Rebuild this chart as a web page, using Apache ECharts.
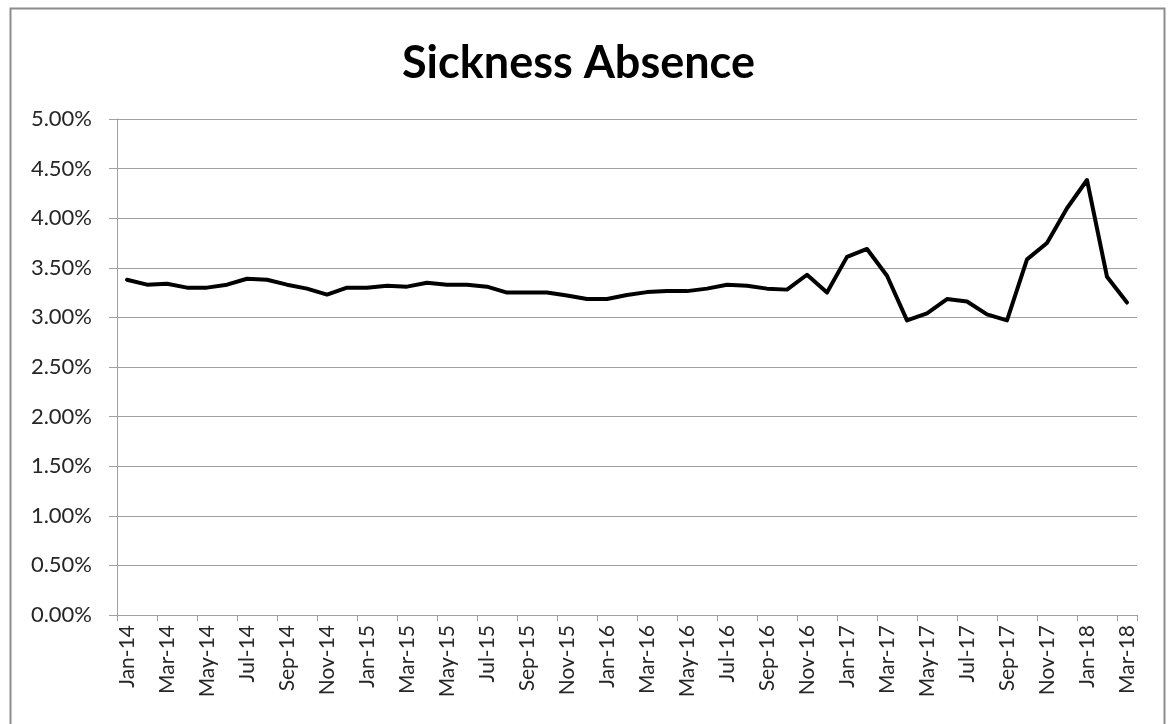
<!DOCTYPE html>
<html>
<head>
<meta charset="utf-8">
<script src="https://cdn.jsdelivr.net/npm/echarts@6/dist/echarts.min.js"></script>
<style>
html,body{margin:0;padding:0;background:#fff;}
#c{width:1170px;height:724px;}
</style>
</head>
<body>
<div id="c"></div>
<script>
const titleText = 'Sickness Absence';
const months = [
  'Jan-14','Feb-14','Mar-14','Apr-14','May-14','Jun-14','Jul-14','Aug-14','Sep-14','Oct-14','Nov-14','Dec-14',
  'Jan-15','Feb-15','Mar-15','Apr-15','May-15','Jun-15','Jul-15','Aug-15','Sep-15','Oct-15','Nov-15','Dec-15',
  'Jan-16','Feb-16','Mar-16','Apr-16','May-16','Jun-16','Jul-16','Aug-16','Sep-16','Oct-16','Nov-16','Dec-16',
  'Jan-17','Feb-17','Mar-17','Apr-17','May-17','Jun-17','Jul-17','Aug-17','Sep-17','Oct-17','Nov-17','Dec-17',
  'Jan-18','Feb-18','Mar-18'
];
const absence = [
  3.38, 3.33, 3.34, 3.30, 3.30, 3.33, 3.39, 3.38, 3.33, 3.29, 3.23, 3.30,
  3.30, 3.32, 3.31, 3.35, 3.33, 3.33, 3.31, 3.25, 3.25, 3.25, 3.22, 3.185,
  3.185, 3.225, 3.255, 3.265, 3.265, 3.29, 3.33, 3.32, 3.29, 3.28, 3.43, 3.25,
  3.61, 3.69, 3.42, 2.97, 3.04, 3.185, 3.16, 3.03, 2.97, 3.585, 3.75, 4.10,
  4.385, 3.41, 3.15
];
const yMin = 0, yMax = 5, yStep = 0.5;

const chart = echarts.init(document.getElementById('c'), null, {renderer: 'canvas'});
chart.setOption({
  backgroundColor: '#fff',
  animation: false,
  graphic: [{
    type: 'rect', left: 8, top: 6, z: -1,
    shape: {width: 1154, height: 740},
    style: {fill: 'none', stroke: '#8c8c8c', lineWidth: 2}
  }],
  title: {
    text: titleText, left: 397, top: 36,
    textStyle: {fontFamily: 'Lato', fontWeight: 'bold', fontSize: 45, color: '#000'}
  },
  grid: {left: 117, right: 33, top: 119, bottom: 109, containLabel: false},
  xAxis: {
    type: 'category', data: months, boundaryGap: true,
    axisLine: {lineStyle: {color: '#a0a0a0', width: 1}},
    axisTick: {show: true, interval: 1, length: 6, lineStyle: {color: '#a0a0a0'}},
    axisLabel: {interval: 1, rotate: 90, fontFamily: 'Lato', fontSize: 21, color: '#262626', margin: 10},
    splitLine: {show: false}
  },
  yAxis: {
    type: 'value', min: yMin, max: yMax, interval: yStep,
    axisLine: {show: true, lineStyle: {color: '#a0a0a0', width: 1}},
    axisTick: {show: true, inside: false, length: 8, lineStyle: {color: '#a0a0a0'}},
    axisLabel: {formatter: v => v.toFixed(2) + '%', fontFamily: 'Lato', fontSize: 22, color: '#262626', margin: 25},
    splitLine: {show: true, lineStyle: {color: '#a0a0a0', width: 1}}
  },
  series: [{
    type: 'line', data: absence, symbol: 'none',
    lineStyle: {color: '#000', width: 4, join: 'round', cap: 'round'}
  }]
});
</script>
</body>
</html>
